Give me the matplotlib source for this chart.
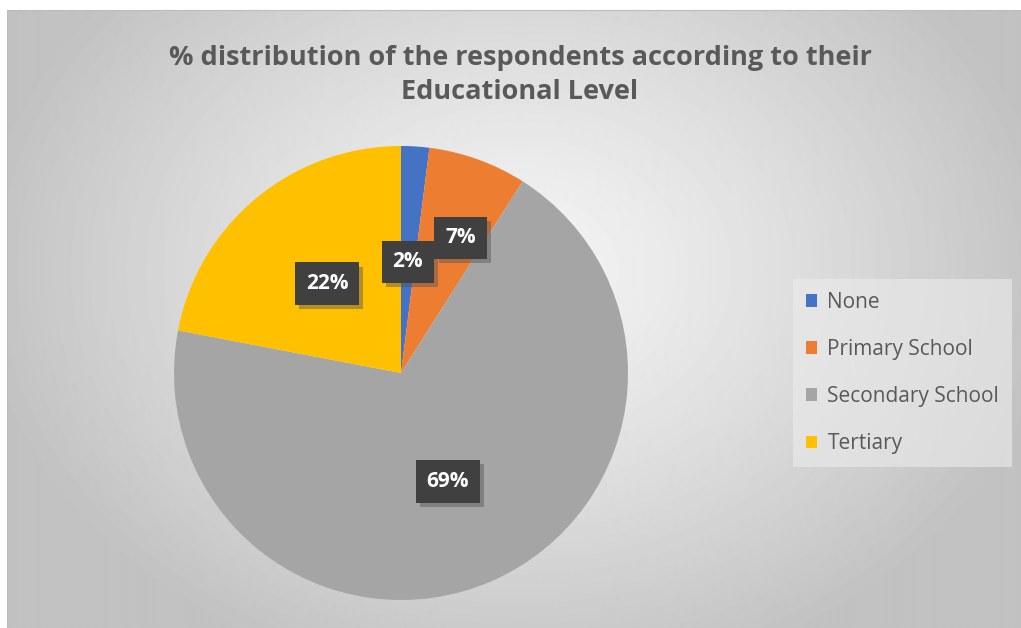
import numpy as np
import matplotlib
matplotlib.use("Agg")
import matplotlib.pyplot as plt
import matplotlib.patheffects as pe
from matplotlib.patches import Patch

categories = ['None', 'Primary School', 'Secondary School', 'Tertiary']
values = [2, 7, 69, 22]
colors = ['#4472C4', '#ED7D31', '#A5A5A5', '#FFC000']
title = '% distribution of the respondents according to their\nEducational Level'

W, H = 1021, 628
fig = plt.figure(figsize=(W / 100, H / 100), dpi=100, facecolor='white')

# chart area background: radial grey gradient
bg = fig.add_axes([7 / W, 0, 1 - 7 / W, 1 - 10 / H])
yy, xx = np.mgrid[0:618, 0:1014]
d = np.sqrt(((xx - 510) / 540.0) ** 2 + ((yy - 260) / 420.0) ** 2)
d = np.clip(d, 0, 1)
shade = 0.96 - 0.20 * d ** 1.2
bg.imshow(shade, cmap='gray', vmin=0, vmax=1, aspect='auto', extent=(0, 1, 0, 1), origin='upper')
bg.set_xlim(0, 1)
bg.set_ylim(0, 1)
bg.set_xticks([])
bg.set_yticks([])
for s in bg.spines.values():
    s.set_color('#bcbcbc')
    s.set_linewidth(0.8)

fig.text(520 / W, 1 - 75 / H, title, ha='center', va='center', fontsize=19.5,
         fontweight='bold', family='Open Sans', color='#595959', linespacing=1.4)

# pie
ax = fig.add_axes([174 / W, 28 / H, 454 / W, 454 / H])
wedges, _ = ax.pie(values, colors=colors, startangle=90, counterclock=False,
                   wedgeprops=dict(linewidth=0))
ax.set_xlim(-1, 1)
ax.set_ylim(-1, 1)

# excel "best fit" label spots: distance from centre and a small angle nudge
label_dist = [0.49, 0.65, 0.52, 0.51]
label_nudge = [0, -4, 0, 0]
for w, v, r, n in zip(wedges, values, label_dist, label_nudge):
    ang = np.deg2rad((w.theta1 + w.theta2) / 2 + n)
    t = ax.text(r * np.cos(ang), r * np.sin(ang), f'{v}%', ha='center', va='center',
                fontsize=15, fontweight='bold', family='Open Sans', color='white',
                bbox=dict(boxstyle='square,pad=0.52', facecolor='#404040', edgecolor='none'))
    t.get_bbox_patch().set_path_effects([
        pe.SimplePatchShadow(offset=(3, -3), shadow_rgbFace='#555555', alpha=0.45),
        pe.Normal()])

handles = [Patch(facecolor=c, edgecolor='none') for c in colors]
leg = fig.legend(handles, categories, loc='center left', bbox_to_anchor=(793 / W, 1 - 373 / H),
                 frameon=True, prop=dict(family='Open Sans', size=15),
                 handlelength=0.55, handleheight=0.55, handletextpad=0.5, labelspacing=1.26,
                 borderpad=0.6, borderaxespad=0, fancybox=False)
leg.get_frame().set_facecolor('#ececec')
leg.get_frame().set_edgecolor('none')
leg.get_frame().set_alpha(0.6)
for txt in leg.get_texts():
    txt.set_color('#595959')

fig.savefig('out.png', dpi=100)
